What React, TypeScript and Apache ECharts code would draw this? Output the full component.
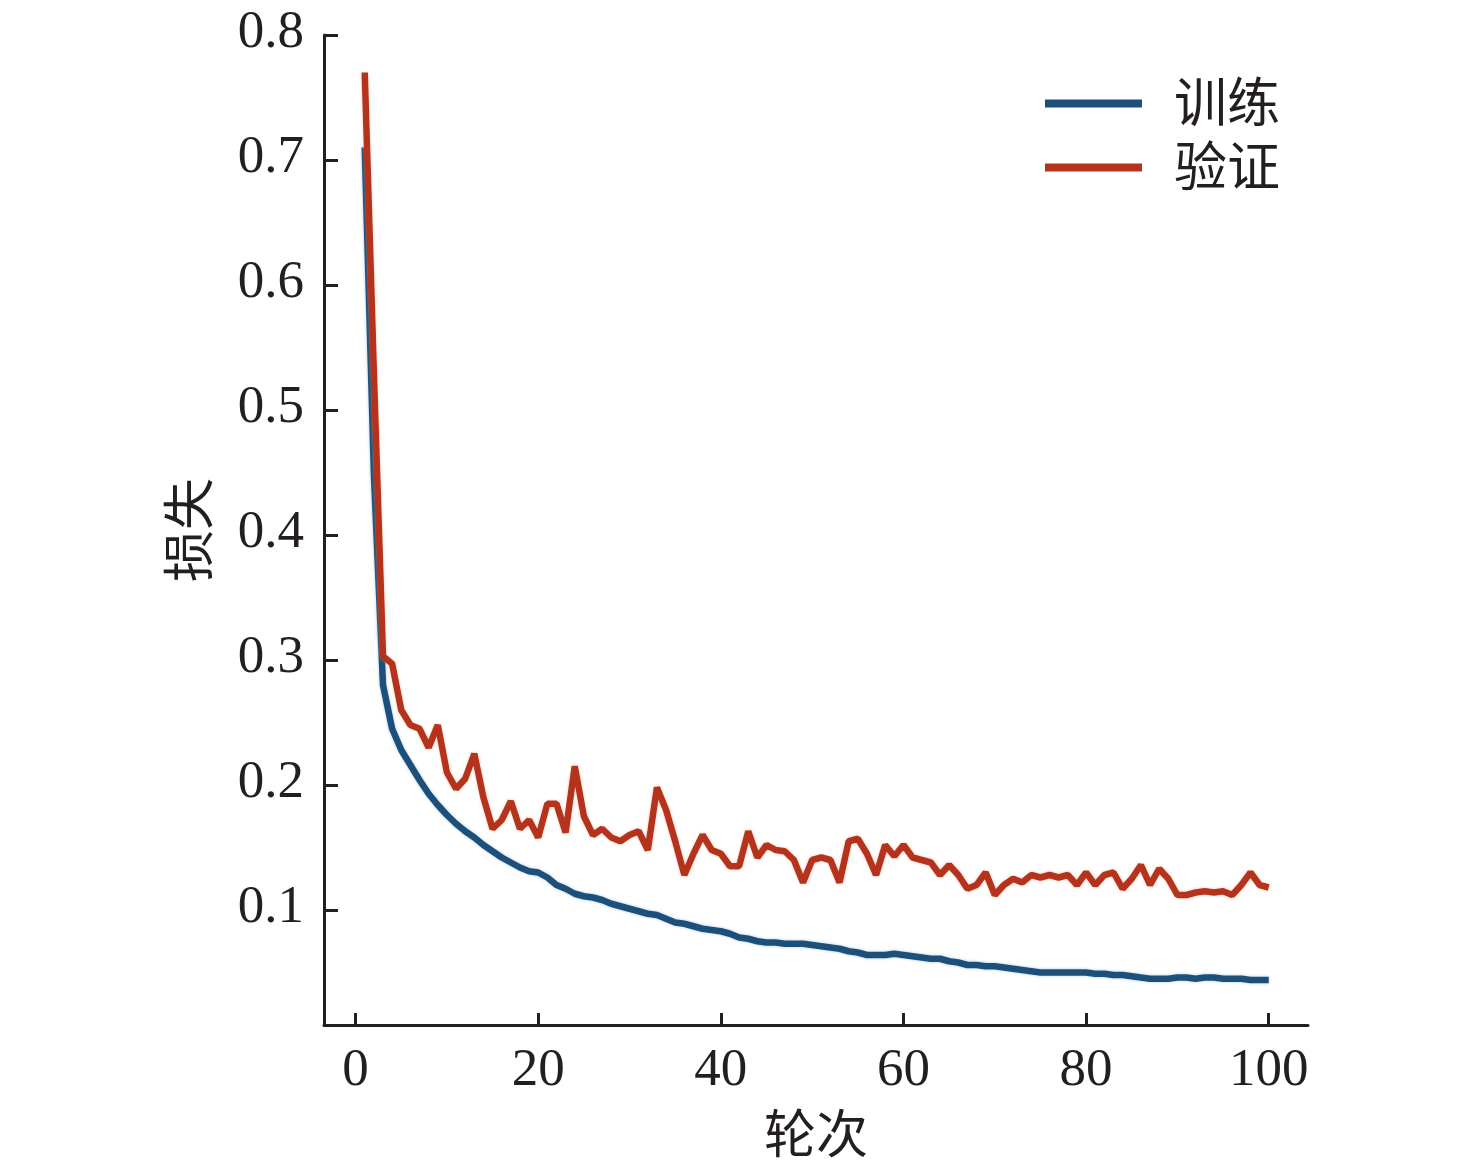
import React, { useEffect, useRef } from "react";
import * as echarts from "echarts";

const epochs: number[] = Array.from({ length: 100 }, (_, i) => i + 1);

const trainLoss: number[] = [
  0.71, 0.45, 0.28, 0.245, 0.228, 0.216, 0.204, 0.193, 0.184, 0.176,
  0.169, 0.163, 0.158, 0.152, 0.147, 0.142, 0.138, 0.134, 0.131, 0.13,
  0.126, 0.12, 0.117, 0.113, 0.111, 0.11, 0.108, 0.105, 0.103, 0.101,
  0.099, 0.097, 0.096, 0.093, 0.09, 0.089, 0.087, 0.085, 0.084, 0.083,
  0.081, 0.078, 0.077, 0.075, 0.074, 0.074, 0.073, 0.073, 0.073, 0.072,
  0.071, 0.07, 0.069, 0.067, 0.066, 0.064, 0.064, 0.064, 0.065, 0.064,
  0.063, 0.062, 0.061, 0.061, 0.059, 0.058, 0.056, 0.056, 0.055, 0.055,
  0.054, 0.053, 0.052, 0.051, 0.05, 0.05, 0.05, 0.05, 0.05, 0.05,
  0.049, 0.049, 0.048, 0.048, 0.047, 0.046, 0.045, 0.045, 0.045, 0.046,
  0.046, 0.045, 0.046, 0.046, 0.045, 0.045, 0.045, 0.044, 0.044, 0.044,
];

const valLoss: number[] = [
  0.77, 0.53, 0.303, 0.297, 0.26, 0.248, 0.245, 0.23, 0.248, 0.21,
  0.197, 0.205, 0.225, 0.19, 0.165, 0.172, 0.187, 0.165, 0.172, 0.158,
  0.185, 0.185, 0.162, 0.215, 0.175, 0.16, 0.165, 0.158, 0.155, 0.16,
  0.163, 0.148, 0.198, 0.18, 0.155, 0.128, 0.145, 0.16, 0.148, 0.145,
  0.135, 0.135, 0.163, 0.142, 0.152, 0.148, 0.147, 0.14, 0.122, 0.14,
  0.142, 0.14, 0.122, 0.155, 0.157, 0.145, 0.128, 0.152, 0.143, 0.152,
  0.142, 0.14, 0.138, 0.128, 0.136, 0.128, 0.117, 0.12, 0.13, 0.112,
  0.12, 0.125, 0.122, 0.128, 0.126, 0.128, 0.126, 0.128, 0.12, 0.13,
  0.12, 0.128, 0.13, 0.117, 0.125, 0.136, 0.12, 0.133, 0.125, 0.112,
  0.112, 0.114, 0.115, 0.114, 0.115, 0.112, 0.12, 0.13, 0.12, 0.118,
];

const xTicks: number[] = [0, 20, 40, 60, 80, 100];
const yTicks: number[] = [0.1, 0.2, 0.3, 0.4, 0.5, 0.6, 0.7, 0.8];

const seriesNames = ["训练", "验证"];
const xName = "轮次";
const yName = "损失";

const FONT = "'Liberation Serif', 'Noto Sans CJK SC', serif";
const INK = "#231f20";

export default function App() {
  const ref = useRef<HTMLDivElement>(null);

  useEffect(() => {
    if (!ref.current) return;
    const chart = echarts.init(ref.current, undefined, { renderer: "svg" });
    const trainData = epochs.map((e, i) => [e, trainLoss[i]]);
    const valData = epochs.map((e, i) => [e, valLoss[i]]);

    chart.setOption({
      animation: false,
      backgroundColor: "#ffffff",
      textStyle: { fontFamily: FONT, color: INK },
      grid: { left: 324, right: 168, top: 35, bottom: 146, containLabel: false },
      legend: {
        orient: "vertical",
        left: 1040,
        top: 72,
        itemWidth: 97,
        itemHeight: 8,
        itemGap: 11,
        icon: "rect",
        data: seriesNames,
        textStyle: { fontFamily: FONT, fontSize: 53, color: INK, padding: [0, 0, 0, 27] },
      },
      xAxis: {
        type: "value",
        min: -3.46,
        max: 104.3,
        name: xName,
        nameLocation: "middle",
        nameGap: 84,
        nameTextStyle: { fontFamily: FONT, fontSize: 52, color: INK },
        axisLine: { show: true, onZero: false, lineStyle: { color: INK, width: 3 } },
        axisTick: { show: true, inside: true, length: 12, lineStyle: { color: INK, width: 3 }, customValues: xTicks },
        axisLabel: { show: true, margin: 15, fontFamily: FONT, fontSize: 53, color: INK, customValues: xTicks },
        splitLine: { show: false },
      },
      yAxis: {
        type: "value",
        min: 0.008,
        max: 0.8,
        name: yName,
        nameLocation: "middle",
        nameGap: 108,
        nameRotate: 90,
        nameTextStyle: { fontFamily: FONT, fontSize: 52, color: INK },
        axisLine: { show: true, onZero: false, lineStyle: { color: INK, width: 3 } },
        axisTick: { show: true, inside: true, length: 14, lineStyle: { color: INK, width: 3 }, customValues: yTicks },
        axisLabel: {
          show: true,
          margin: 20,
          fontFamily: FONT,
          fontSize: 53,
          color: INK,
          verticalAlign: "bottom",
          lineHeight: 12,
          customValues: yTicks,
          formatter: (v: number) => v.toFixed(1),
        },
        splitLine: { show: false },
      },
      series: [
        {
          name: seriesNames[0],
          type: "line",
          data: trainData,
          showSymbol: false,
          symbol: "none",
          lineStyle: { color: "#1d4f7a", width: 6.5, shadowColor: "rgba(90,150,200,0.5)", shadowBlur: 3 },
          itemStyle: { color: "#1d4f7a" },
        },
        {
          name: seriesNames[1],
          type: "line",
          data: valData,
          showSymbol: false,
          symbol: "none",
          lineStyle: { color: "#b5331d", width: 6.5, shadowColor: "rgba(240,150,110,0.5)", shadowBlur: 3 },
          itemStyle: { color: "#b5331d" },
        },
      ],
    });

    return () => chart.dispose();
  }, []);

  return (
    <div
      ref={ref}
      style={{ position: "absolute", left: 0, top: 0, width: 1476, height: 1171, background: "#fff" }}
    />
  );
}
